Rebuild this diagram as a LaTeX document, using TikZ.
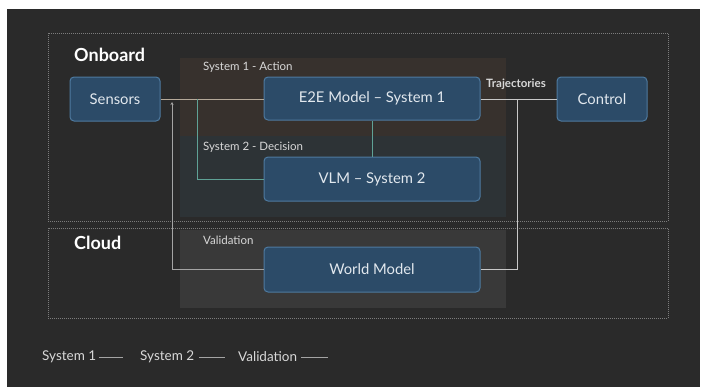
\documentclass[tikz,border=0pt]{standalone}
\usepackage{fontspec}
\setmainfont{Lato}
\usetikzlibrary{arrows.meta}
\definecolor{bgdark}{HTML}{2A2A2A}
\definecolor{nodefill}{HTML}{2C4B68}
\definecolor{nodeborder}{HTML}{4E7AA0}
\definecolor{nodetext}{HTML}{E2E8EE}
\definecolor{regA}{HTML}{37312D}
\definecolor{regB}{HTML}{2D3336}
\definecolor{regC}{HTML}{393939}
\definecolor{boxline}{HTML}{7C7C7C}
\definecolor{lineA}{HTML}{B5A999}
\definecolor{lineB}{HTML}{5FA296}
\definecolor{lineC}{HTML}{C8C8C8}
\definecolor{lineD}{HTML}{A4A4A4}
\definecolor{lbl}{HTML}{D8D8D8}
\tikzset{
  blockbox/.style={draw=nodeborder, line width=1pt, fill=nodefill, rounded corners=4pt,
    text=nodetext, font=\fontsize{14.8}{17}\selectfont, inner sep=0pt},
  zonebox/.style={draw=boxline, line width=0.8pt, dash pattern=on 1pt off 1pt},
  regionlabel/.style={text=lbl, font=\fontsize{11.5}{13}\selectfont, anchor=west, inner sep=0pt},
  titlelabel/.style={text=white, font=\bfseries\fontsize{18}{21}\selectfont, anchor=west, inner sep=0pt},
  legendlabel/.style={text=lbl, font=\fontsize{13.5}{16}\selectfont, anchor=west, inner sep=0pt},
  conn/.style={line width=1pt},
}
\begin{document}
\begin{tikzpicture}[x=1pt,y=-1pt]
\useasboundingbox (0,0) rectangle (707,389);
\fill[white] (0,0) rectangle (707,389);
\fill[bgdark] (7,9) rectangle (700,387);
% zones
\draw[zonebox] (48,33) rectangle (668,221);
\draw[zonebox] (48,228) rectangle (668,318);
% regions
\fill[regA] (180,58) rectangle (506,136);
\fill[regB] (180,136) rectangle (506,217);
\fill[regC] (180,230) rectangle (506,308);
% titles
\node[titlelabel] (onboard) at (74,55) {Onboard};
\node[titlelabel] (cloud) at (74,243) {Cloud};
\node[regionlabel] (r1) at (203,67) {System 1 - Action};
\node[regionlabel] (r2) at (203,147) {System 2 - Decision};
\node[regionlabel] (r3) at (203,240) {Validation};
% blocks
\node[blockbox, minimum width=90pt, minimum height=44pt] (sensors) at (115,99) {Sensors};
\node[blockbox, minimum width=216pt, minimum height=43pt] (e2e) at (372,98.5) {E2E Model – System 1};
\node[blockbox, minimum width=90pt, minimum height=44pt] (control) at (602,99) {Control};
\node[blockbox, minimum width=216pt, minimum height=44pt] (vlm) at (372,179) {VLM – System 2};
\node[blockbox, minimum width=216pt, minimum height=45pt] (world) at (372,269.5) {World Model};
\node[regionlabel, font=\fontsize{11.5}{13}\selectfont\bfseries, text=lbl] (traj) at (486,84) {Trajectories};
% coordinates
\coordinate (splitA) at (197,99);
\coordinate (splitC) at (517,99);
\coordinate (valtop) at (172,102);
% connectors
\draw[conn, lineA] (sensors.east |- 0,99) -- (e2e.west |- 0,99);
\draw[conn, lineB] (splitA) |- (vlm.west);
\draw[conn, lineB] (e2e.south) -- (vlm.north);
\draw[conn, lineC] (e2e.east |- 0,99) -- (control.west |- 0,99);
\draw[conn, lineC] (splitC) |- (world.east);
\draw[conn, lineD, -{Stealth[length=3pt,width=3pt]}] (world.west) -| (valtop);
% legend
\node[legendlabel] (l1) at (42,357) {System 1};
\node[legendlabel] (l2) at (140,357) {System 2};
\node[legendlabel] (l3) at (238,357) {Validation};
\coordinate (l1e) at (123,357);
\coordinate (l2e) at (225,357);
\coordinate (l3e) at (328,357);
\draw[conn, lineD] ([xshift=3pt]l1.east) -- (l1e);
\draw[conn, lineD] ([xshift=5pt]l2.east) -- (l2e);
\draw[conn, lineD] ([xshift=4pt]l3.east) -- (l3e);
\end{tikzpicture}
\end{document}
